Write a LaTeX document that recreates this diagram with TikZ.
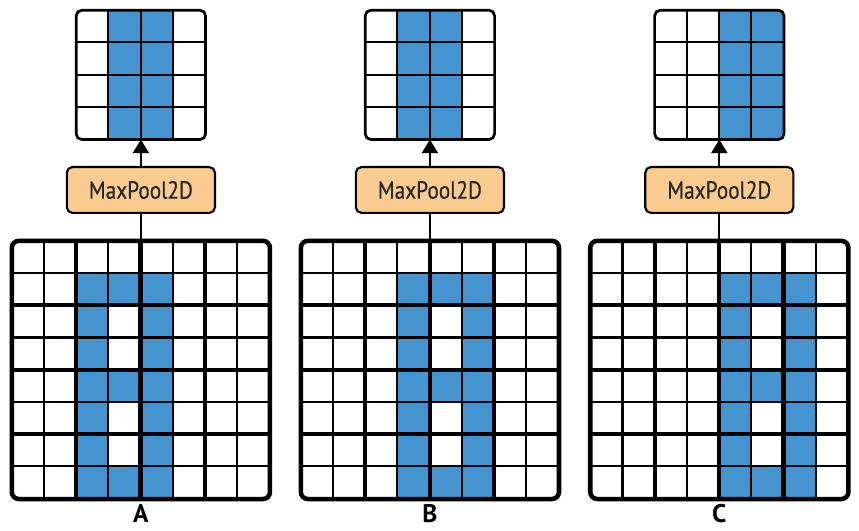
\documentclass[tikz,border=0pt]{standalone}
\usepackage{fontspec}
\setsansfont{PT Sans}
\newfontfamily\poolfont[FakeStretch=0.86,FakeBold=0.5]{PT Sans}
\usetikzlibrary{positioning,arrows.meta}

\definecolor{cellblue}{RGB}{69,148,207}
\definecolor{poolfill}{RGB}{250,204,146}

\begin{document}
\begin{tikzpicture}[
  >={Triangle[length=3.4mm,width=4mm]},
  bigframe/.style={minimum width=6.4cm, minimum height=6.4cm, inner sep=0pt},
  smallframe/.style={minimum width=3.2cm, minimum height=3.2cm, inner sep=0pt},
  pool/.style={draw, line width=1.5pt, rounded corners=4pt, fill=poolfill,
    minimum width=3.68cm, minimum height=1.14cm, inner sep=0pt,
    font=\poolfont\fontsize{17.5}{17.5}\selectfont, text=black!85},
  panellabel/.style={anchor=base, inner sep=0pt,
    font=\sffamily\bfseries\fontsize{18}{18}\selectfont},
  cellline/.style={line width=1.5pt},
  poolline/.style={line width=3pt},
  border/.style={line width=3.2pt, rounded corners=5pt},
  smallborder/.style={line width=1.9pt, rounded corners=4pt},
  link/.style={line width=1.6pt}
]
  \useasboundingbox (0,0) rectangle (21.34,13.19);

  % one panel per shift of the shape: name / x / first column in / first column out
  \foreach \p/\x/\c/\o in {A/3.5/2/1, B/10.68/3/1, C/17.87/4/2} {
    \node[bigframe] (in\p) at (\x,4.0) {};
    \node[smallframe] (out\p) at (\x,11.33) {};
    \node[pool] (pool\p) at (\x,8.47) {MaxPool2D};
    \node[panellabel] (lab\p) at (\x,0.22) {\p};

    % 8x8 input
    \begin{scope}[shift={(in\p.north west)}]
      \fill[cellblue] ({\c*0.8},-0.8) rectangle ({(\c+1)*0.8},-6.4);
      \fill[cellblue] ({(\c+2)*0.8},-0.8) rectangle ({(\c+3)*0.8},-6.4);
      \foreach \r in {1,4,7}
        \fill[cellblue] ({(\c+1)*0.8},{-\r*0.8}) rectangle ++(0.8,-0.8);
      \foreach \k in {1,...,7} {
        \draw[cellline] ({\k*0.8},0) -- ++(0,-6.4);
        \draw[cellline] (0,{-\k*0.8}) -- ++(6.4,0);
      }
      \foreach \k in {2,4,6} {
        \draw[poolline] ({\k*0.8},0) -- ++(0,-6.4);
        \draw[poolline] (0,{-\k*0.8}) -- ++(6.4,0);
      }
    \end{scope}
    \draw[border] (in\p.south west) rectangle (in\p.north east);

    % 4x4 output
    \begin{scope}
      \clip[rounded corners=4pt] (out\p.south west) rectangle (out\p.north east);
      \fill[cellblue] ([xshift=\o*8mm]out\p.north west) rectangle ([xshift=\o*8mm+16mm]out\p.south west);
    \end{scope}
    \begin{scope}[shift={(out\p.north west)}]
      \foreach \k in {1,2,3} {
        \draw[cellline] ({\k*0.8},0) -- ++(0,-3.2);
        \draw[cellline] (0,{-\k*0.8}) -- ++(3.2,0);
      }
    \end{scope}
    \draw[smallborder] (out\p.south west) rectangle (out\p.north east);

    \draw[link] (in\p.north) -- (pool\p.south);
    \draw[link,->] (pool\p.north) -- (out\p.south);
  }
\end{tikzpicture}
\end{document}
